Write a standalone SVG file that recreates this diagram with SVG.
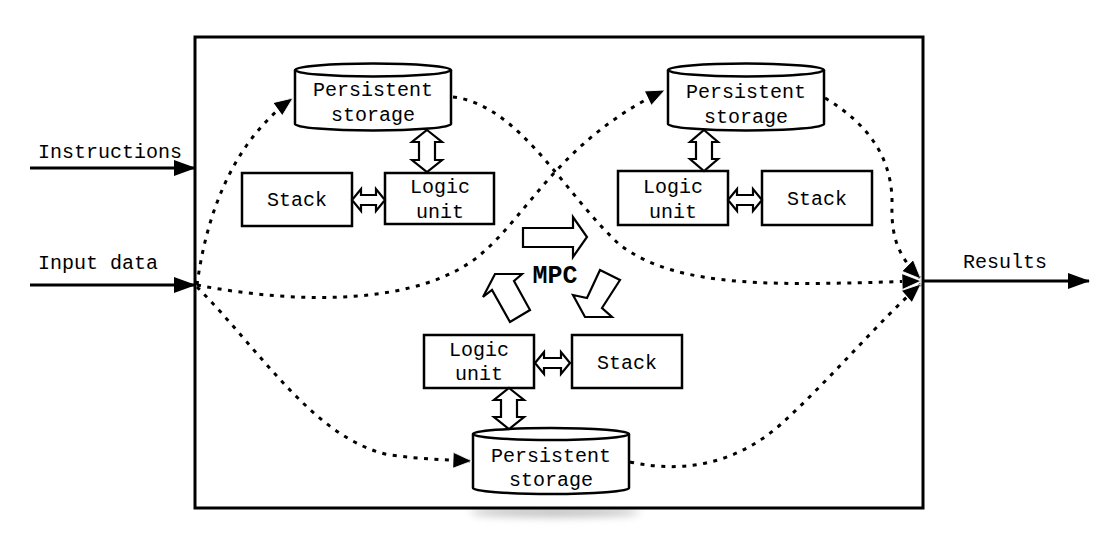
<svg xmlns="http://www.w3.org/2000/svg" width="1100" height="541" viewBox="0 0 1100 541">
<defs>
<style>
.t{font-family:"Liberation Mono","Courier New",monospace;font-size:20px;fill:#000;text-anchor:middle}
.tl{text-anchor:start}
.box{fill:#fff;stroke:#000;stroke-width:2.5}
.cyl{fill:#fff;stroke:#000;stroke-width:2.5}
.dbl{fill:#fff;stroke:#000;stroke-width:2.2;stroke-linejoin:miter}
.dot{fill:none;stroke:#000;stroke-width:3;stroke-dasharray:4 6.5}
.solid{fill:none;stroke:#000;stroke-width:3}
</style>
<marker id="dh" markerUnits="userSpaceOnUse" viewBox="0 0 20 16" markerWidth="20" markerHeight="16" refX="19" refY="8" orient="auto">
<path d="M0,0 L19,8 L0,16 Z" fill="#000" stroke="#fff" stroke-width="0.8" stroke-dasharray="none"/>
</marker>
<marker id="sh" markerUnits="userSpaceOnUse" viewBox="0 0 22 16" markerWidth="22" markerHeight="16" refX="21" refY="8" orient="auto">
<path d="M0,0 L22,8 L0,16 Z" fill="#000"/>
</marker>
<filter id="blur" x="-50%" y="-200%" width="200%" height="500%"><feGaussianBlur stdDeviation="4"/></filter>
</defs>
<rect width="1100" height="541" fill="#fff"/>
<ellipse cx="555" cy="512" rx="85" ry="5" fill="#000" opacity="0.25" filter="url(#blur)"/>
<g id="frame"><rect x="195" y="37" width="728" height="471" fill="#fff" stroke="#000" stroke-width="3"/></g>

<g id="storage-tl">
<path class="cyl" d="M295,70 V124 A78,6.5 0 0 0 451,124 V70"/>
<ellipse class="cyl" cx="373" cy="70" rx="78" ry="6.5"/>
<text class="t" x="373" y="96">Persistent</text>
<text class="t" x="373" y="121">storage</text>
</g>
<g id="stack-tl"><rect class="box" x="242" y="173" width="110" height="53"/><text class="t" x="297" y="206">Stack</text></g>
<g id="logic-tl"><rect class="box" x="385" y="173" width="109" height="51"/><text class="t" x="440" y="193">Logic</text><text class="t" x="440" y="218">unit</text></g>

<g id="storage-tr">
<path class="cyl" d="M668,70 V124 A78,6.5 0 0 0 824,124 V70"/>
<ellipse class="cyl" cx="746" cy="70" rx="78" ry="6.5"/>
<text class="t" x="746" y="98">Persistent</text>
<text class="t" x="746" y="123">storage</text>
</g>
<g id="logic-tr"><rect class="box" x="618" y="171" width="110" height="54"/><text class="t" x="673" y="193">Logic</text><text class="t" x="673" y="218">unit</text></g>
<g id="stack-tr"><rect class="box" x="762" y="171" width="110" height="54"/><text class="t" x="817" y="205">Stack</text></g>

<g id="logic-b"><rect class="box" x="424" y="335" width="110" height="53"/><text class="t" x="479" y="356">Logic</text><text class="t" x="479" y="380">unit</text></g>
<g id="stack-b"><rect class="box" x="572" y="335" width="110" height="53"/><text class="t" x="627" y="369">Stack</text></g>
<g id="storage-b">
<path class="cyl" d="M473,434 V488 A78,6 0 0 0 629,488 V434"/>
<ellipse class="cyl" cx="551" cy="434" rx="78" ry="6"/>
<text class="t" x="551" y="462">Persistent</text>
<text class="t" x="551" y="486">storage</text>
</g>

<g id="mpc">
<polygon class="dbl" points="523,228 573,228 573,217 587,237 573,257 573,247 523,247"/>
<polygon class="dbl" points="495,274 522,274 514,281 530,310 510,322 492,290 483,297"/>
<polygon class="dbl" points="600,270 620,280 602,308 612,317 585,317 573,295 587,298"/>
<text x="555" y="283" font-family="'Liberation Mono','Courier New',monospace" font-size="25" font-weight="bold" text-anchor="middle">MPC</text>
</g>

<g id="connectors">
<polygon class="dbl" points="427,130 442,142 435,142 435,160 442,160 427,172 412,160 419,160 419,142 412,142"/>
<polygon class="dbl" points="352,200 361,189 361,195 376,195 376,189 385,200 376,211 376,205 361,205 361,211"/>
<polygon class="dbl" points="704,130 718,142 712,142 712,159 718,159 704,171 690,159 696,159 696,142 690,142"/>
<polygon class="dbl" points="728,200 737,189 737,195 753,195 753,189 762,200 753,211 753,205 737,205 737,211"/>
<polygon class="dbl" points="535,363 544,352 544,358 561,358 561,352 570,363 561,374 561,368 544,368 544,374"/>
<polygon class="dbl" points="509,388 524,400 517,400 517,417 524,417 509,429 494,417 501,417 501,400 494,400"/>

<path class="dot" marker-end="url(#dh)" d="M197,285 C207,210 235,140 293,98"/>
<path class="dot" marker-end="url(#dh)" d="M197,285 C300,305 420,305 480,255 C530,213 560,140 665,90"/>
<path class="dot" marker-end="url(#dh)" d="M453,97 C520,105 565,195 620,245 C680,290 780,285 921,281"/>
<path class="dot" marker-end="url(#dh)" d="M825,98 C870,125 893,160 892,205 C891,240 900,258 921,279"/>
<path class="dot" marker-end="url(#dh)" d="M197,287 C260,350 315,440 390,455 C420,459 445,460 472,461"/>
<path class="dot" marker-end="url(#dh)" d="M630,462 C690,475 740,460 780,425 C830,380 880,320 921,284"/>

<path class="solid" marker-end="url(#sh)" d="M30,168 H195"/>
<path class="solid" marker-end="url(#sh)" d="M30,285 H195"/>
<path class="solid" marker-end="url(#sh)" d="M923,281 H1089"/>
</g>

<g id="labels">
<text class="t tl" x="38" y="158">Instructions</text>
<text class="t tl" x="38" y="269">Input data</text>
<text class="t tl" x="963" y="268">Results</text>
</g>
</svg>
